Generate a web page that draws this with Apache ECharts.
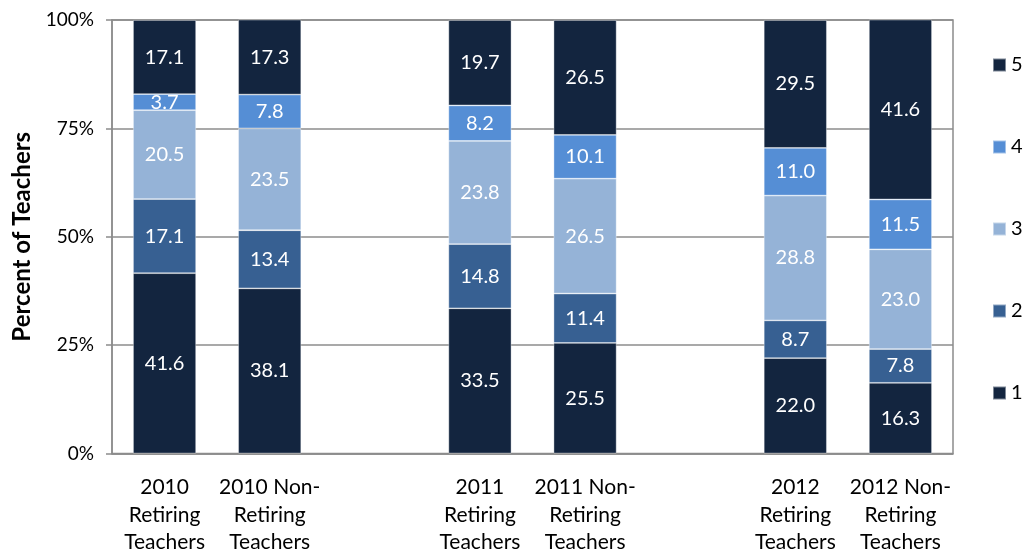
<!DOCTYPE html>
<html>
<head>
<meta charset="utf-8">
<script src="https://cdn.jsdelivr.net/npm/echarts@6/dist/echarts.min.js"></script>
<style>
  html, body { margin: 0; padding: 0; background: #fff; }
  #chart { width: 1026px; height: 556px; }
</style>
</head>
<body>
<div id="chart"></div>
<script>
var categories = [
  "2010\nRetiring\nTeachers", "2010 Non-\nRetiring\nTeachers", "",
  "2011\nRetiring\nTeachers", "2011 Non-\nRetiring\nTeachers", "",
  "2012\nRetiring\nTeachers", "2012 Non-\nRetiring\nTeachers"
];
var seriesNames = ["1", "2", "3", "4", "5"];
var values1 = [41.6, 38.1, "-", 33.5, 25.5, "-", 22.0, 16.3];
var values2 = [17.1, 13.4, "-", 14.8, 11.4, "-", 8.7, 7.8];
var values3 = [20.5, 23.5, "-", 23.8, 26.5, "-", 28.8, 23.0];
var values4 = [3.7, 7.8, "-", 8.2, 10.1, "-", 11.0, 11.5];
var values5 = [17.1, 17.3, "-", 19.7, 26.5, "-", 29.5, 41.6];
var colors = ["#13253f", "#376092", "#95b3d7", "#558ed5", "#13253f"];

var chartDom = document.getElementById("chart");
var myChart = echarts.init(chartDom);
var font = "Lato, 'Open Sans', sans-serif";

function makeSeries(name, data, color) {
  return {
    name: name,
    type: "bar",
    stack: "total",
    barWidth: "60%",
    data: data,
    itemStyle: {
      color: color,
      borderColor: "rgba(255,255,255,0.45)",
      borderWidth: 0.8,
    },
    label: {
      show: true,
      position: "inside",
      color: "#fff",
      fontFamily: font,
      fontSize: 20,
      formatter: function (p) {
        return p.value.toFixed(1);
      },
    },
  };
}

var allValues = [values1, values2, values3, values4, values5];
var option = {
  animation: false,
  color: colors,
  grid: {
    left: 112,
    right: 73,
    top: 20,
    bottom: 100,
    show: true,
    borderColor: "#8c8c8c",
    borderWidth: 1.5,
  },
  legend: {
    orient: "vertical",
    left: 987,
    top: 50,
    itemWidth: 13,
    itemHeight: 13,
    itemGap: 62,
    icon: "rect",
    data: ["5", "4", "3", "2", "1"],
    textStyle: { fontFamily: font, fontSize: 20, color: "#000" },
  },
  xAxis: {
    type: "category",
    data: categories,
    axisLine: { lineStyle: { color: "#8c8c8c", width: 1.5 } },
    axisTick: { show: false },
    axisLabel: {
      interval: 0,
      margin: 20,
      fontFamily: font,
      fontSize: 21,
      lineHeight: 27.5,
      color: "#000",
    },
  },
  yAxis: {
    type: "value",
    min: 0,
    max: 100,
    interval: 25,
    name: "Percent of Teachers",
    nameLocation: "middle",
    nameGap: 78,
    nameTextStyle: { fontFamily: font, fontSize: 24, fontWeight: "bold", color: "#000" },
    axisLine: { show: true, lineStyle: { color: "#8c8c8c", width: 1.5 } },
    axisTick: { show: true, length: 6, lineStyle: { color: "#8c8c8c", width: 1.5 } },
    axisLabel: {
      formatter: "{value}%",
      margin: 18,
      fontFamily: font,
      fontSize: 19,
      color: "#000",
    },
    splitLine: { lineStyle: { color: "#8c8c8c", width: 1.5 } },
  },
  series: seriesNames.map(function (n, i) {
    return makeSeries(n, allValues[i], colors[i]);
  }),
};
option && myChart.setOption(option);
</script>
</body>
</html>
